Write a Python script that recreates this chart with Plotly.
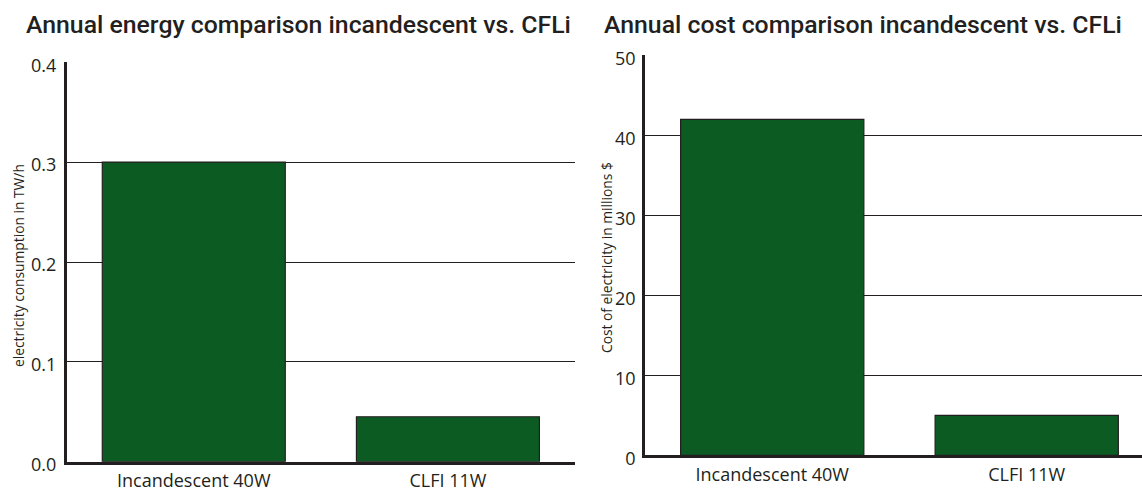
import plotly.graph_objects as go

categories = ["Incandescent 40W", "CLFI 11W"]
energy_twh = [0.30, 0.045]
cost_musd = [42.0, 5.0]

energy_ticks = [0.0, 0.1, 0.2, 0.3, 0.4]
energy_ticktext = ["0.0", "0.1", "0.2", "0.3", "0.4"]
cost_ticks = [0, 10, 20, 30, 40, 50]

title_left = "Annual energy comparison incandescent vs. CFLi"
title_right = "Annual cost comparison incandescent vs. CFLi"
ytitle_left = "electricity consumption in TW/h"
ytitle_right = "Cost of electricity in millions $"

W, H = 1142, 488
INK = "#231f20"
GREEN = "#0b5b23"
TICKFONT = dict(family="Open Sans", size=18, color=INK)
TITLEFONT = dict(family="Roboto", size=24.8, color=INK, weight=500)

fig = go.Figure()
fig.add_trace(go.Bar(x=categories, y=energy_twh, width=0.72,
                     marker=dict(color=GREEN, line=dict(color=INK, width=1.2)),
                     xaxis="x", yaxis="y", showlegend=False))
fig.add_trace(go.Bar(x=categories, y=cost_musd, width=0.72,
                     marker=dict(color=GREEN, line=dict(color=INK, width=1.2)),
                     xaxis="x2", yaxis="y2", showlegend=False))

def px_x(p):
    return p / W

def px_y(p):
    return 1 - p / H

xcommon = dict(type="category", showgrid=False, zeroline=False, showline=True,
               linecolor=INK, linewidth=3, ticks="", tickfont=TICKFONT,
               ticklabelstandoff=1, fixedrange=True, automargin=False)
ycommon = dict(showgrid=True, gridcolor=INK, gridwidth=1, zeroline=False,
               showline=True, linecolor=INK, linewidth=2.5, ticks="",
               tickfont=TICKFONT, fixedrange=True, automargin=False,
               ticklabelshift=3)

fig.update_layout(
    width=W, height=H,
    margin=dict(l=0, r=0, t=0, b=0, autoexpand=False),
    paper_bgcolor="white", plot_bgcolor="white",
    bargap=0.28,
    xaxis=dict(xcommon, domain=[px_x(66.7), px_x(575)], range=[-0.5, 1.5], anchor="y"),
    yaxis=dict(ycommon, domain=[px_y(461.7), px_y(62.3)], range=[0, 0.4],
               tickvals=energy_ticks, ticktext=energy_ticktext, anchor="x",
               ticklabelstandoff=4),
    xaxis2=dict(xcommon, domain=[px_x(645), 1.0], range=[-0.5, 1.453], anchor="y2"),
    yaxis2=dict(ycommon, domain=[px_y(455.3), px_y(55.3)], range=[0, 50],
                tickvals=cost_ticks, anchor="x2", ticklabelstandoff=3),
    annotations=[
        dict(text=title_left, x=px_x(24), y=px_y(24), xref="paper", yref="paper",
             xanchor="left", yanchor="middle", showarrow=False, font=TITLEFONT),
        dict(text=title_right, x=px_x(602), y=px_y(24), xref="paper", yref="paper",
             xanchor="left", yanchor="middle", showarrow=False, font=TITLEFONT),
        dict(text=ytitle_left, x=px_x(18), y=px_y(266), xref="paper", yref="paper",
             xanchor="center", yanchor="middle", showarrow=False, textangle=-90,
             font=dict(family="Open Sans", size=13.8, color=INK)),
        dict(text=ytitle_right, x=px_x(606), y=px_y(258), xref="paper", yref="paper",
             xanchor="center", yanchor="middle", showarrow=False, textangle=-90,
             font=dict(family="Open Sans", size=13.8, color=INK)),
    ],
)

fig.write_html("out.html",
               config={"displayModeBar": False},
               post_script="document.body.style.margin='0px';document.body.style.overflow='hidden';")
